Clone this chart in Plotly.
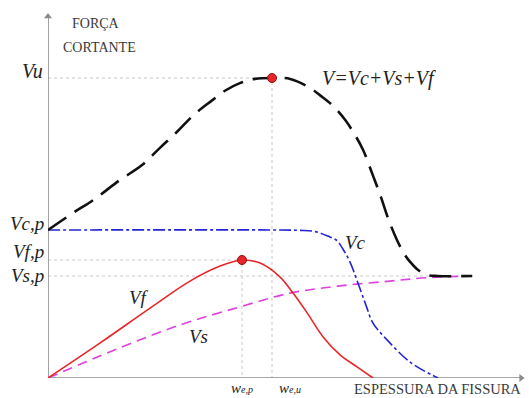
import plotly.graph_objects as go

# Characteristic values (schematic units)
VU = 100.0    # ultimate shear
VCP = 49.33   # concrete contribution at peak
VFP = 39.33   # fibre contribution at peak
VSP = 34.0    # stirrup contribution plateau
WEP = 41.25   # crack width at fibre peak
WEU = 47.63   # crack width at ultimate

# Total shear V = Vc + Vs + Vf
w_total = [0, 5.3, 9.6, 15.3, 20.0, 23.8, 27.4, 31.0, 34.7, 37.9, 40.8, 44.0, WEU, 51.5, 55.7,
           57.8, 60.4, 63.2, 64.9, 67.0, 68.9, 70.8, 72.3, 74.2, 75.9, 77.0, 78.7, 80.8, 82.9, 90.2]
v_total = [VCP, 55.0, 59.3, 66.0, 71.0, 76.7, 82.0, 87.7, 92.3, 96.0, 98.3, 99.7, VU, 99.7, 96.7,
           94.3, 91.0, 86.0, 82.0, 76.0, 68.3, 60.3, 53.3, 46.0, 41.0, 38.7, 36.0, 34.3, VSP, VSP]

# Concrete contribution Vc
w_c = [0, 49.3, 53.6, 56.8, 59.5, 61.5, 62.7, 64.2, 65.9, 67.6, 69.1, 72.1, 77.0, 82.9]
v_c = [VCP, VCP, 49.2, 48.8, 47.3, 45.7, 43.0, 38.7, 31.7, 24.3, 18.3, 12.7, 5.3, 0]

# Fibre contribution Vf
w_f = [0, 11.1, 21.7, 30.2, 36.6, WEP, 45.1, 49.3, 52.1, 55.1, 58.5, 62.1, 65.7, 69.1]
v_f = [0, 11.7, 23.3, 32.3, 37.3, VFP, 38.3, 33.7, 28.3, 21.7, 13.7, 7.7, 3.7, 0]

# Stirrup contribution Vs
w_s = [0, 14.7, 28.1, 40.8, 51.5, 62.1, 72.7, 81.2, 90.2]
v_s = [0, 9.7, 17.7, 23.7, 28.3, 30.7, 32.3, 33.5, VSP]

SERIF = "Liberation Serif, Times New Roman, Times, serif"
GUIDE = dict(color="#c8c8c8", width=1, dash="3px,3px")
AXIS = "#8c8c8c"

fig = go.Figure()

# reference guide lines
fig.add_trace(go.Scatter(x=[0, WEU, WEU], y=[VU, VU, 0], mode="lines", line=GUIDE, hoverinfo="skip"))
fig.add_trace(go.Scatter(x=[0, WEP, WEP], y=[VFP, VFP, 0], mode="lines", line=GUIDE, hoverinfo="skip"))
fig.add_trace(go.Scatter(x=[0, w_s[-1]], y=[VSP, VSP], mode="lines", line=GUIDE, hoverinfo="skip"))

# axes with arrowheads
fig.add_trace(go.Scatter(x=[0, 0, 100.6], y=[120.5, 0, 0], mode="lines",
                         line=dict(color=AXIS, width=1.6), hoverinfo="skip", cliponaxis=False))
fig.add_trace(go.Scatter(x=[0, 100.6], y=[120.5, 0], mode="markers", hoverinfo="skip", cliponaxis=False,
                         marker=dict(symbol=["triangle-up", "triangle-right"], size=7, color=AXIS)))

fig.add_trace(go.Scatter(x=w_s, y=v_s, mode="lines", line=dict(color="#e040e0", width=1.6, dash="10px,6px", shape="spline")))
fig.add_trace(go.Scatter(x=w_f, y=v_f, mode="lines", line=dict(color="#e8262a", width=1.6, shape="spline")))
fig.add_trace(go.Scatter(x=w_c, y=v_c, mode="lines", line=dict(color="#2424d8", width=1.6, dash="12px,3px,3px,3px", shape="spline")))
fig.add_trace(go.Scatter(x=w_total, y=v_total, mode="lines", line=dict(color="#111111", width=2.6, dash="22px,10px", shape="spline")))

# peak markers
fig.add_trace(go.Scatter(x=[WEU, WEP], y=[VU, VFP], mode="markers",
                         marker=dict(size=9, color="#e8262a", line=dict(color="#901010", width=1))))

ann = []

def label(x, y, text, size=19, xanchor="center", yanchor="middle", xshift=0, yshift=0,
          color="#222", italic=True):
    ann.append(dict(x=x, y=y, xref="x", yref="y", text=f"<i>{text}</i>" if italic else text,
                    showarrow=False, xanchor=xanchor, yanchor=yanchor, xshift=xshift, yshift=yshift,
                    font=dict(family=SERIF, size=size, color=color)))

# axis value labels
label(0, VU, "Vu", xanchor="right", xshift=-3, yshift=7, size=20)
label(0, VCP, "Vc,p", xanchor="right", xshift=-2, yshift=7)
label(0, VFP, "Vf,p", xanchor="right", xshift=-2, yshift=9)
label(0, VSP, "Vs,p", xanchor="right", xshift=-2, yshift=1)

# curve labels
label(70.4, 99.7, "V=Vc+Vs+Vf", size=20)
label(65.3, 45.3, "Vc")
label(19.4, 26.7, "Vf")
label(31.9, 13.7, "Vs")

# crack width labels
SMALL = "<span style='font-size:10px'>{}</span>"
label(WEP, 0, "w" + SMALL.format("e,p"), size=15, yanchor="top", yshift=0)
label(51.5, 0, "w" + SMALL.format("e,u"), size=15, yanchor="top", yshift=0)

# axis titles
label(82.8, 0, "ESPESSURA DA FISSURA", size=14.5, yanchor="top", yshift=-1, color="#3a3a3a", italic=False)
label(10.3, 118.3, "FORÇA", size=14, color="#3a3a3a", italic=False)
label(10.9, 110.3, "CORTANTE", size=14, color="#3a3a3a", italic=False)

fig.update_layout(
    width=529, height=398,
    margin=dict(l=48, r=6, t=12, b=20),
    paper_bgcolor="white", plot_bgcolor="white",
    showlegend=False,
    annotations=ann,
    xaxis=dict(range=[0, 101], showgrid=False, zeroline=False, showticklabels=False, showline=False, ticks=""),
    yaxis=dict(range=[0, 122], showgrid=False, zeroline=False, showticklabels=False, showline=False, ticks=""),
)

fig.write_html("out.html")
